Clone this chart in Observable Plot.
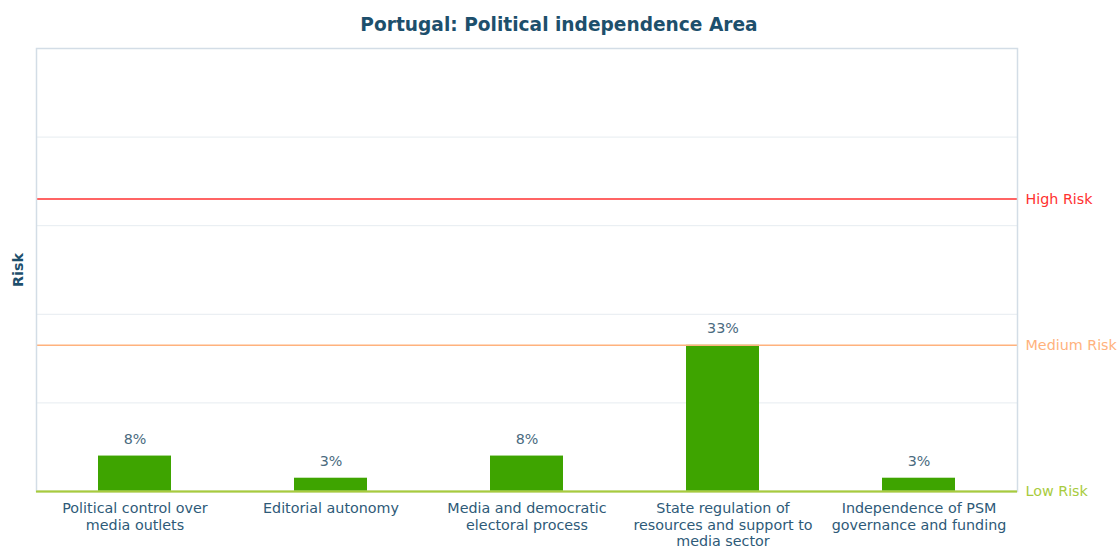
<!DOCTYPE html>
<html><head><meta charset="utf-8">
<script src="https://cdn.jsdelivr.net/npm/d3@7"></script>
<script src="https://cdn.jsdelivr.net/npm/@observablehq/plot@0.6"></script>
<style>
body{margin:0;background:#fff;font-family:"DejaVu Sans",sans-serif;}
#title{height:44px;line-height:50px;text-align:center;font-weight:bold;font-size:18.6px;color:#1d4f6c;width:1118px;}
</style></head><body>
<div id="title">Portugal: Political independence Area</div>
<div id="chart"></div>
<script>
const categories = ["Political control over media outlets","Editorial autonomy","Media and democratic electoral process","State regulation of resources and support to media sector","Independence of PSM governance and funding"];
const tickLabels = ["Political control over\nmedia outlets","Editorial autonomy","Media and democratic\nelectoral process","State regulation of\nresources and support to\nmedia sector","Independence of PSM\ngovernance and funding"];
const values = [8, 3, 8, 33, 3];
const riskNames = ["High Risk","Medium Risk","Low Risk"];
const riskLevels = [66, 33, 0];
const riskColors = ["#ff3030","#ffb27d","#a8cb3d"];
const gridTicks = [20, 40, 60, 80];

const data = categories.map((c,i)=>({c, v: values[i]}));
const risks = riskNames.map((n,i)=>({n, y: riskLevels[i], col: riskColors[i]}));
const labelMap = new Map(categories.map((c,i)=>[c, tickLabels[i]]));

const chart = Plot.plot({
  width: 1118, height: 503,
  marginTop: 4, marginBottom: 56, marginLeft: 36, marginRight: 101,
  style: {fontFamily: "DejaVu Sans, sans-serif", fontSize: "14.3px", background: "#fff"},
  x: {domain: categories, paddingInner: 0.63, paddingOuter: 0.315, label: null},
  y: {domain: [0, 100], label: null},
  marks: [
    Plot.ruleY(gridTicks, {stroke: "#e6ecf0", strokeWidth: 1}),
    Plot.barY(data, {x: "c", y: "v", fill: "#3ea400"}),
    Plot.text(data, {x: "c", y: "v", text: d => d.v + "%", dy: -17, fill: "#4b6b80", fontSize: 14.3}),
    Plot.ruleY(risks, {y: "y", stroke: "col", strokeWidth: 1.5}),
    Plot.text(risks, {y: "y", frameAnchor: "right", text: "n", fill: "col", textAnchor: "start", dx: 8, fontSize: 14.3}),
    Plot.frame({stroke: "#d3dde6", strokeWidth: 1.5}),
    Plot.ruleY([0], {stroke: "#a8cb3d", strokeWidth: 2}),
    Plot.axisX({tickSize: 0, tickPadding: 10, fill: "#2e5a78", fontSize: 14.3, tickFormat: d => labelMap.get(d), lineHeight: 1.15}),
    Plot.axisY({ticks: [], label: null}),
    Plot.text(["Risk"], {frameAnchor: "left", dx: -18, rotate: -90, textAnchor: "middle", fill: "#1d4f6c", fontWeight: "bold", fontSize: 14.3})
  ]
});
document.getElementById("chart").appendChild(chart);
</script>
</body></html>
